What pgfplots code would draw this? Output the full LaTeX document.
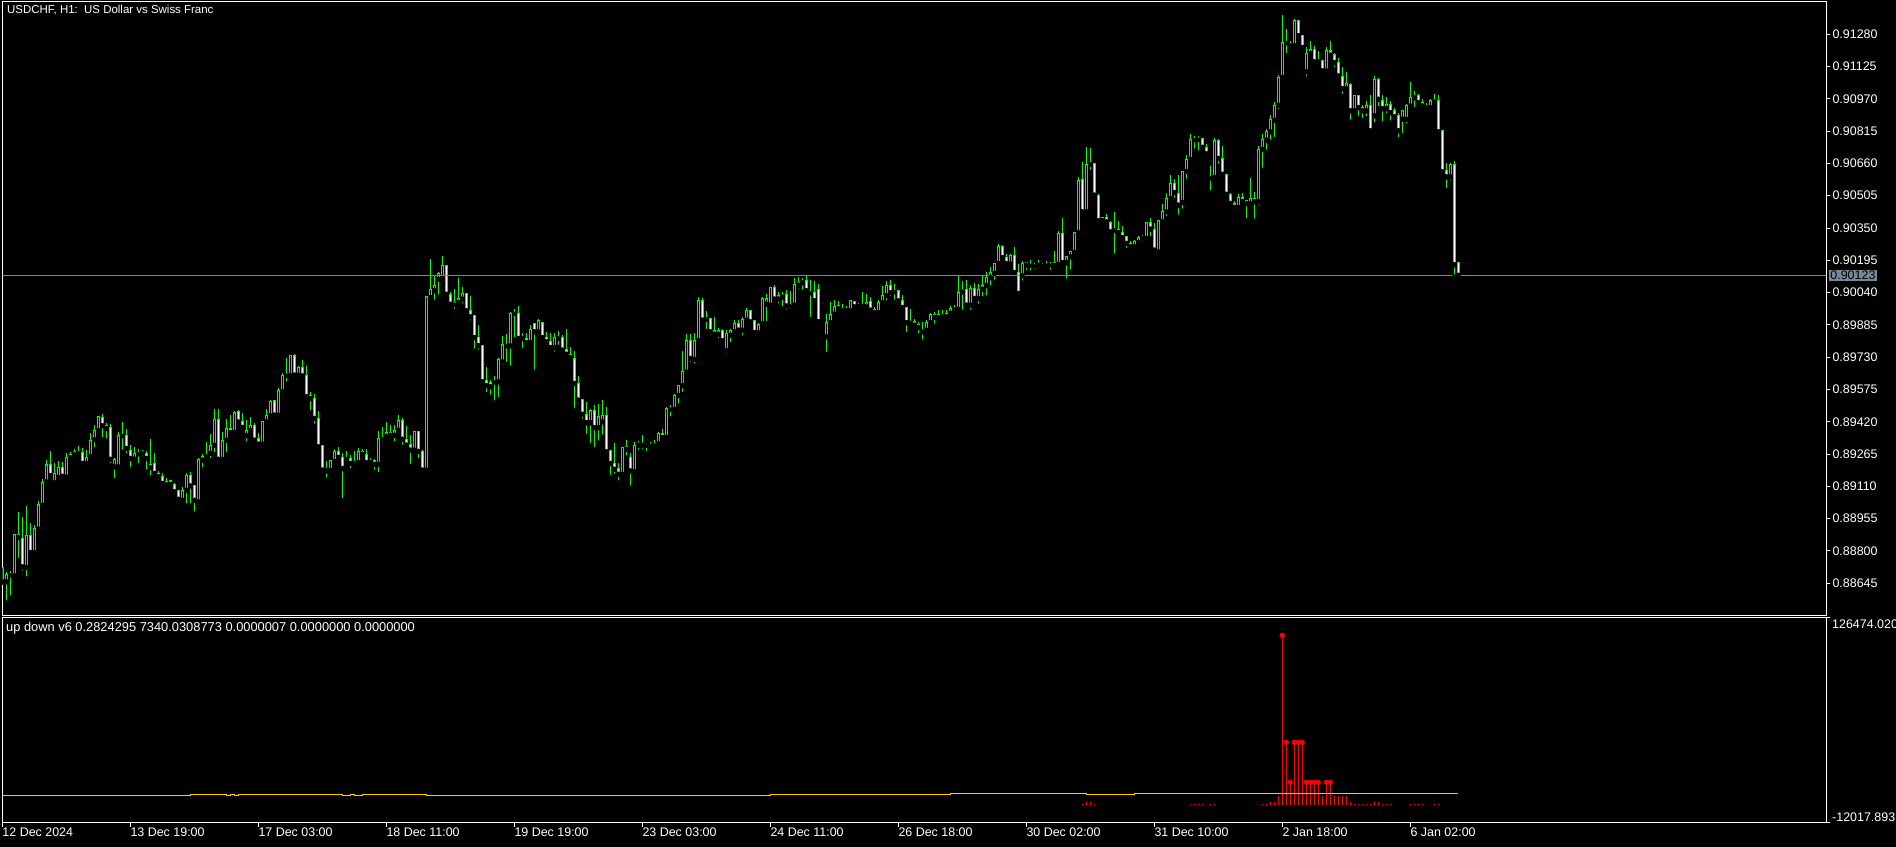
\documentclass[border=0pt]{standalone}
\usepackage{pgfplots}
\pgfplotsset{compat=1.18}
\usepackage{pgfplotstable}
\usepackage{fontspec}
\setmainfont{Liberation Sans}
\definecolor{cgreen}{RGB}{0,255,0}
\definecolor{lsg}{RGB}{119,136,153}
\definecolor{cgold}{RGB}{255,200,0}
\definecolor{cred}{RGB}{255,0,0}
\pgfplotstableread{
i o h l c
0 0.88652 0.88724 0.88649 0.88721
1 0.88652 0.88700 0.88552 0.88689
2 0.88686 0.88704 0.88576 0.88689
3 0.88681 0.88883 0.88678 0.88880
4 0.88880 0.88987 0.88756 0.88865
5 0.88860 0.88963 0.88696 0.88724
6 0.88721 0.89016 0.88667 0.88872
7 0.88872 0.88934 0.88784 0.88792
8 0.88792 0.88924 0.88772 0.88908
9 0.88905 0.89040 0.88900 0.89024
10 0.89019 0.89145 0.89001 0.89129
11 0.89132 0.89236 0.89120 0.89216
12 0.89216 0.89280 0.89160 0.89161
13 0.89128 0.89220 0.89124 0.89172
14 0.89153 0.89232 0.89147 0.89201
15 0.89200 0.89227 0.89155 0.89158
16 0.89155 0.89268 0.89152 0.89249
17 0.89248 0.89276 0.89228 0.89264
18 0.89264 0.89289 0.89256 0.89276
19 0.89276 0.89304 0.89265 0.89272
20 0.89273 0.89292 0.89217 0.89220
21 0.89220 0.89284 0.89217 0.89249
22 0.89254 0.89368 0.89252 0.89331
23 0.89334 0.89404 0.89289 0.89379
24 0.89377 0.89449 0.89372 0.89443
25 0.89441 0.89457 0.89336 0.89401
26 0.89404 0.89412 0.89329 0.89388
27 0.89393 0.89409 0.89212 0.89240
28 0.89204 0.89244 0.89140 0.89240
29 0.89204 0.89369 0.89201 0.89356
30 0.89356 0.89419 0.89276 0.89353
31 0.89353 0.89385 0.89260 0.89292
32 0.89284 0.89308 0.89193 0.89244
33 0.89241 0.89300 0.89236 0.89268
34 0.89268 0.89288 0.89212 0.89267
35 0.89273 0.89284 0.89244 0.89270
36 0.89268 0.89280 0.89180 0.89244
37 0.89200 0.89337 0.89153 0.89216
38 0.89220 0.89270 0.89169 0.89172
39 0.89172 0.89184 0.89132 0.89156
40 0.89156 0.89176 0.89104 0.89124
41 0.89118 0.89150 0.89096 0.89134
42 0.89136 0.89140 0.89099 0.89120
43 0.89120 0.89124 0.89081 0.89084
44 0.89088 0.89092 0.89032 0.89048
45 0.89044 0.89105 0.89025 0.89092
46 0.89092 0.89172 0.89019 0.89163
47 0.89163 0.89179 0.89019 0.89112
48 0.89115 0.89116 0.88979 0.89043
49 0.89036 0.89244 0.89012 0.89240
50 0.89236 0.89264 0.89193 0.89252
51 0.89252 0.89321 0.89240 0.89265
52 0.89268 0.89361 0.89236 0.89307
53 0.89307 0.89481 0.89264 0.89432
54 0.89432 0.89481 0.89228 0.89240
55 0.89240 0.89371 0.89216 0.89329
56 0.89332 0.89433 0.89264 0.89388
57 0.89388 0.89452 0.89361 0.89368
58 0.89369 0.89470 0.89348 0.89465
59 0.89470 0.89476 0.89412 0.89419
60 0.89420 0.89460 0.89388 0.89393
61 0.89353 0.89428 0.89316 0.89380
62 0.89377 0.89444 0.89368 0.89400
63 0.89400 0.89412 0.89324 0.89332
64 0.89340 0.89368 0.89308 0.89313
65 0.89313 0.89425 0.89296 0.89422
66 0.89420 0.89481 0.89412 0.89452
67 0.89449 0.89524 0.89448 0.89515
68 0.89520 0.89521 0.89449 0.89452
69 0.89452 0.89584 0.89449 0.89568
70 0.89564 0.89652 0.89540 0.89644
71 0.89643 0.89728 0.89604 0.89644
72 0.89641 0.89740 0.89640 0.89736
73 0.89736 0.89745 0.89640 0.89644
74 0.89644 0.89688 0.89632 0.89681
75 0.89681 0.89716 0.89636 0.89640
76 0.89643 0.89688 0.89521 0.89540
77 0.89544 0.89564 0.89464 0.89532
78 0.89532 0.89553 0.89401 0.89436
79 0.89436 0.89472 0.89291 0.89300
80 0.89304 0.89308 0.89176 0.89188
81 0.89193 0.89233 0.89144 0.89185
82 0.89185 0.89236 0.89168 0.89232
83 0.89230 0.89288 0.89220 0.89275
84 0.89278 0.89300 0.89243 0.89249
85 0.89249 0.89268 0.89044 0.89196
86 0.89249 0.89278 0.89220 0.89244
87 0.89244 0.89262 0.89188 0.89220
88 0.89224 0.89281 0.89201 0.89227
89 0.89224 0.89294 0.89217 0.89275
90 0.89264 0.89291 0.89240 0.89275
91 0.89264 0.89288 0.89204 0.89224
92 0.89236 0.89246 0.89217 0.89225
93 0.89236 0.89243 0.89180 0.89216
94 0.89216 0.89376 0.89168 0.89342
95 0.89339 0.89396 0.89313 0.89344
96 0.89348 0.89419 0.89336 0.89369
97 0.89369 0.89404 0.89339 0.89355
98 0.89355 0.89403 0.89316 0.89380
99 0.89380 0.89452 0.89355 0.89427
100 0.89427 0.89436 0.89300 0.89336
101 0.89336 0.89400 0.89304 0.89308
102 0.89312 0.89356 0.89208 0.89284
103 0.89284 0.89372 0.89273 0.89371
104 0.89371 0.89372 0.89236 0.89278
105 0.89278 0.89284 0.89169 0.89188
106 0.89188 0.90024 0.89185 0.90019
107 0.90016 0.90201 0.89996 0.90056
108 0.90049 0.90120 0.89996 0.90072
109 0.90104 0.90140 0.90020 0.90132
110 0.90108 0.90216 0.90084 0.90172
111 0.90168 0.90172 0.90020 0.90032
112 0.90032 0.90044 0.89964 0.89984
113 0.89992 0.90056 0.89952 0.89985
114 0.89992 0.90110 0.89980 0.90012
115 0.90009 0.90067 0.89980 0.90036
116 0.90036 0.90040 0.89937 0.89953
117 0.89952 0.90024 0.89896 0.89924
118 0.89928 0.89931 0.89761 0.89824
119 0.89825 0.89884 0.89756 0.89785
120 0.89787 0.89790 0.89596 0.89612
121 0.89616 0.89684 0.89553 0.89593
122 0.89608 0.89620 0.89540 0.89588
123 0.89611 0.89640 0.89512 0.89614
124 0.89612 0.89726 0.89529 0.89721
125 0.89708 0.89832 0.89684 0.89792
126 0.89785 0.89841 0.89697 0.89788
127 0.89785 0.89948 0.89680 0.89940
128 0.89940 0.89960 0.89816 0.89942
129 0.89940 0.89976 0.89812 0.89820
130 0.89820 0.89848 0.89764 0.89830
131 0.89820 0.89848 0.89780 0.89800
132 0.89800 0.89883 0.89796 0.89864
133 0.89892 0.89896 0.89660 0.89852
134 0.89852 0.89913 0.89828 0.89904
135 0.89897 0.89900 0.89809 0.89824
136 0.89824 0.89851 0.89780 0.89804
137 0.89804 0.89848 0.89764 0.89776
138 0.89776 0.89848 0.89747 0.89825
139 0.89822 0.89856 0.89780 0.89824
140 0.89824 0.89836 0.89760 0.89764
141 0.89768 0.89864 0.89723 0.89744
142 0.89744 0.89779 0.89707 0.89728
143 0.89724 0.89760 0.89476 0.89604
144 0.89604 0.89640 0.89497 0.89524
145 0.89528 0.89529 0.89425 0.89456
146 0.89456 0.89513 0.89352 0.89416
147 0.89416 0.89481 0.89308 0.89472
148 0.89472 0.89500 0.89289 0.89392
149 0.89392 0.89505 0.89320 0.89443
150 0.89420 0.89524 0.89348 0.89451
151 0.89452 0.89491 0.89257 0.89276
152 0.89281 0.89284 0.89155 0.89220
153 0.89220 0.89316 0.89160 0.89192
154 0.89196 0.89220 0.89128 0.89168
155 0.89168 0.89300 0.89156 0.89296
156 0.89288 0.89332 0.89248 0.89299
157 0.89249 0.89272 0.89104 0.89184
158 0.89180 0.89321 0.89171 0.89304
159 0.89307 0.89326 0.89276 0.89318
160 0.89316 0.89356 0.89280 0.89307
161 0.89310 0.89316 0.89270 0.89308
162 0.89307 0.89323 0.89289 0.89313
163 0.89310 0.89332 0.89299 0.89315
164 0.89316 0.89372 0.89310 0.89366
165 0.89366 0.89387 0.89332 0.89345
166 0.89344 0.89491 0.89332 0.89486
167 0.89481 0.89502 0.89436 0.89484
168 0.89480 0.89553 0.89464 0.89548
169 0.89547 0.89598 0.89497 0.89593
170 0.89593 0.89760 0.89553 0.89662
171 0.89659 0.89840 0.89652 0.89812
172 0.89812 0.89840 0.89697 0.89724
173 0.89720 0.89844 0.89689 0.89812
174 0.89809 0.90019 0.89809 0.90000
175 0.90000 0.90012 0.89905 0.89908
176 0.89915 0.89950 0.89856 0.89913
177 0.89916 0.89920 0.89828 0.89852
178 0.89840 0.89921 0.89828 0.89860
179 0.89857 0.89870 0.89812 0.89841
180 0.89860 0.89865 0.89804 0.89809
181 0.89761 0.89860 0.89736 0.89844
182 0.89835 0.89865 0.89793 0.89856
183 0.89852 0.89908 0.89844 0.89894
184 0.89892 0.89908 0.89844 0.89860
185 0.89860 0.89921 0.89824 0.89913
186 0.89908 0.89966 0.89905 0.89952
187 0.89952 0.89956 0.89889 0.89900
188 0.89904 0.89905 0.89844 0.89848
189 0.89848 0.89896 0.89844 0.89889
190 0.89892 0.90019 0.89889 0.90014
191 0.89985 0.90033 0.89892 0.90012
192 0.89980 0.90068 0.89976 0.90065
193 0.90065 0.90076 0.90001 0.90009
194 0.90009 0.90043 0.89980 0.90024
195 0.90019 0.90043 0.89964 0.90033
196 0.90032 0.90052 0.89948 0.89976
197 0.89984 0.90049 0.89953 0.89977
198 0.89980 0.90112 0.89964 0.90080
199 0.90076 0.90113 0.90049 0.90089
200 0.90088 0.90108 0.90044 0.90100
201 0.90100 0.90120 0.90044 0.90049
202 0.90046 0.90100 0.89913 0.90040
203 0.90041 0.90096 0.89982 0.90001
204 0.90056 0.90081 0.89900 0.89900
205 0.89984 0.89992 0.89976 0.89979
206 0.89828 0.89937 0.89745 0.89897
207 0.89896 0.89995 0.89892 0.89936
208 0.89937 0.90004 0.89916 0.89974
209 0.89963 0.90000 0.89953 0.89976
210 0.89960 0.89985 0.89940 0.89958
211 0.89953 0.89976 0.89932 0.89961
212 0.89953 0.90004 0.89948 0.90000
213 0.89996 0.90000 0.89953 0.89972
214 0.89977 0.89988 0.89960 0.89976
215 0.89979 0.90043 0.89964 0.89976
216 0.89972 0.90033 0.89964 0.89993
217 0.89998 0.90020 0.89948 0.89956
218 0.89944 0.89972 0.89929 0.89960
219 0.89944 0.90004 0.89936 0.89992
220 0.89992 0.90072 0.89988 0.90027
221 0.90025 0.90096 0.89992 0.90075
222 0.90075 0.90100 0.90014 0.90040
223 0.90046 0.90081 0.89996 0.90044
224 0.90049 0.90052 0.89988 0.90000
225 0.90004 0.90028 0.89953 0.89968
226 0.89969 0.89972 0.89841 0.89896
227 0.89900 0.89961 0.89876 0.89897
228 0.89902 0.89912 0.89876 0.89884
229 0.89889 0.89900 0.89836 0.89873
230 0.89852 0.89900 0.89804 0.89864
231 0.89860 0.89908 0.89844 0.89897
232 0.89896 0.89944 0.89892 0.89937
233 0.89937 0.89948 0.89881 0.89921
234 0.89920 0.89956 0.89904 0.89937
235 0.89937 0.89956 0.89920 0.89924
236 0.89924 0.89956 0.89920 0.89940
237 0.89940 0.89977 0.89928 0.89966
238 0.89956 0.89980 0.89952 0.89964
239 0.89960 0.90120 0.89956 0.90041
240 0.90044 0.90096 0.89948 0.90056
241 0.90056 0.90100 0.89976 0.89980
242 0.89980 0.90076 0.89948 0.90060
243 0.90060 0.90084 0.89992 0.90012
244 0.90012 0.90081 0.89977 0.90057
245 0.90056 0.90120 0.90012 0.90073
246 0.90073 0.90137 0.90016 0.90112
247 0.90112 0.90161 0.90065 0.90136
248 0.90132 0.90184 0.90092 0.90180
249 0.90180 0.90273 0.90172 0.90259
250 0.90259 0.90268 0.90204 0.90208
251 0.90209 0.90225 0.90160 0.90179
252 0.90177 0.90225 0.90177 0.90220
253 0.90220 0.90259 0.90108 0.90136
254 0.90136 0.90177 0.90025 0.90036
255 0.90121 0.90192 0.90088 0.90180
256 0.90172 0.90188 0.90140 0.90184
257 0.90172 0.90196 0.90136 0.90171
258 0.90169 0.90184 0.90144 0.90176
259 0.90180 0.90196 0.90168 0.90171
260 0.90177 0.90180 0.90152 0.90171
261 0.90172 0.90192 0.90161 0.90172
262 0.90176 0.90188 0.90140 0.90174
263 0.90171 0.90240 0.90161 0.90184
264 0.90176 0.90336 0.90160 0.90324
265 0.90324 0.90400 0.90172 0.90184
266 0.90184 0.90217 0.90097 0.90211
267 0.90212 0.90241 0.90140 0.90235
268 0.90232 0.90332 0.90217 0.90329
269 0.90328 0.90595 0.90308 0.90580
270 0.90584 0.90668 0.90419 0.90428
271 0.90428 0.90739 0.90428 0.90657
272 0.90657 0.90734 0.90620 0.90659
273 0.90660 0.90664 0.90500 0.90508
274 0.90504 0.90513 0.90372 0.90385
275 0.90385 0.90404 0.90372 0.90401
276 0.90401 0.90417 0.90368 0.90380
277 0.90377 0.90384 0.90329 0.90332
278 0.90342 0.90427 0.90217 0.90340
279 0.90344 0.90384 0.90323 0.90328
280 0.90329 0.90360 0.90299 0.90304
281 0.90307 0.90312 0.90244 0.90276
282 0.90278 0.90289 0.90252 0.90260
283 0.90260 0.90294 0.90244 0.90284
284 0.90280 0.90312 0.90273 0.90304
285 0.90302 0.90315 0.90276 0.90305
286 0.90300 0.90380 0.90284 0.90377
287 0.90377 0.90400 0.90300 0.90345
288 0.90345 0.90376 0.90228 0.90244
289 0.90236 0.90388 0.90232 0.90384
290 0.90380 0.90465 0.90364 0.90430
291 0.90428 0.90516 0.90396 0.90492
292 0.90492 0.90604 0.90472 0.90564
293 0.90564 0.90584 0.90484 0.90520
294 0.90516 0.90604 0.90404 0.90460
295 0.90473 0.90624 0.90433 0.90622
296 0.90622 0.90700 0.90577 0.90680
297 0.90680 0.90801 0.90664 0.90776
298 0.90774 0.90792 0.90721 0.90776
299 0.90776 0.90792 0.90712 0.90782
300 0.90780 0.90784 0.90716 0.90737
301 0.90737 0.90753 0.90704 0.90707
302 0.90590 0.90648 0.90520 0.90592
303 0.90592 0.90780 0.90584 0.90772
304 0.90772 0.90779 0.90648 0.90684
305 0.90684 0.90744 0.90596 0.90608
306 0.90608 0.90611 0.90508 0.90512
307 0.90513 0.90520 0.90462 0.90468
308 0.90468 0.90478 0.90424 0.90449
309 0.90449 0.90512 0.90433 0.90497
310 0.90497 0.90516 0.90468 0.90478
311 0.90483 0.90484 0.90388 0.90467
312 0.90467 0.90590 0.90444 0.90491
313 0.90491 0.90521 0.90385 0.90476
314 0.90476 0.90744 0.90449 0.90728
315 0.90728 0.90800 0.90628 0.90776
316 0.90772 0.90824 0.90716 0.90814
317 0.90812 0.90892 0.90764 0.90872
318 0.90868 0.90956 0.90777 0.90939
319 0.90940 0.91084 0.90912 0.91073
320 0.91072 0.91372 0.91072 0.91241
321 0.91241 0.91305 0.91180 0.91240
322 0.91225 0.91249 0.91204 0.91236
323 0.91225 0.91353 0.91225 0.91344
324 0.91344 0.91345 0.91252 0.91273
325 0.91272 0.91276 0.91216 0.91216
326 0.91100 0.91217 0.91068 0.91188
327 0.91188 0.91249 0.91180 0.91208
328 0.91208 0.91224 0.91144 0.91148
329 0.91153 0.91201 0.91140 0.91152
330 0.91153 0.91156 0.91084 0.91105
331 0.91104 0.91219 0.91099 0.91204
332 0.91204 0.91248 0.91176 0.91180
333 0.91185 0.91188 0.91113 0.91144
334 0.91145 0.91164 0.91072 0.91080
335 0.91078 0.91124 0.90984 0.91019
336 0.91019 0.91099 0.90996 0.91044
337 0.91040 0.91044 0.90860 0.90913
338 0.90913 0.90988 0.90892 0.90984
339 0.90984 0.90987 0.90876 0.90928
340 0.90929 0.90940 0.90868 0.90913
341 0.90913 0.90960 0.90876 0.90936
342 0.90936 0.90988 0.90796 0.90817
343 0.90889 0.91080 0.90849 0.91065
344 0.91065 0.91068 0.90924 0.90968
345 0.90964 0.90988 0.90852 0.90923
346 0.90923 0.90979 0.90892 0.90945
347 0.90945 0.90958 0.90856 0.90904
348 0.90912 0.90926 0.90881 0.90884
349 0.90892 0.90904 0.90777 0.90817
350 0.90873 0.90916 0.90796 0.90912
351 0.90872 0.90944 0.90844 0.90936
352 0.90936 0.91051 0.90924 0.90977
353 0.90976 0.91008 0.90921 0.90988
354 0.90988 0.90993 0.90948 0.90952
355 0.90953 0.90968 0.90921 0.90936
356 0.90936 0.90948 0.90916 0.90928
357 0.90928 0.90969 0.90908 0.90960
358 0.90956 0.90993 0.90948 0.90969
359 0.90964 0.90988 0.90796 0.90812
360 0.90816 0.90820 0.90604 0.90620
361 0.90624 0.90660 0.90532 0.90596
362 0.90596 0.90660 0.90568 0.90657
363 0.90657 0.90672 0.90116 0.90174
364 0.90185 0.90185 0.90123 0.90123
}\candles
\pgfplotstableread{
i v
270 700
271 2000
272 2000
273 700
297 700
298 700
299 700
300 700
302 700
303 700
315 700
316 700
317 2034
318 2034
319 5885
320 114448
321 42163
322 15140
323 42163
324 42163
325 42163
326 15140
327 15140
328 15140
329 15140
330 5885
331 15140
332 15140
333 5885
334 5885
335 5885
336 5885
337 2034
338 700
339 700
340 700
341 700
342 700
343 2034
344 2034
345 700
346 700
347 700
352 700
353 700
354 700
355 700
358 700
359 700
}\redbars
\pgfplotstableread{
i v
320 114448
321 42163
322 15140
323 42163
324 42163
325 42163
326 15140
327 15140
328 15140
329 15140
331 15140
332 15140
}\reddots
\pgfplotstableread{
i v
0 5990
47 6665
56 5990
57 6665
58 5990
59 6665
85 5990
87 6665
88 5990
90 6665
106 5990
192 6665
237 7340
271 6665
283 7340
364 7340
}\yellowline
\begin{document}
\begin{tikzpicture}
\path[use as bounding box] (0,0) rectangle (1896bp,-847bp);
\fill[black] (0,0) rectangle (1896bp,-847bp);
% main price panel
\begin{axis}[
  at={(2.3bp,-2bp)}, anchor=north west, scale only axis,
  width=1824bp, height=613bp,
  xmin=0, xmax=456, ymin=0.884924, ymax=0.914348,
  axis line style={draw=white, line width=1bp},
  xtick=\empty,
  ytick={0.88645,0.88800,0.88955,0.89110,0.89265,0.89420,0.89575,0.89730,0.89885,0.90040,0.90195,0.90350,0.90505,0.90660,0.90815,0.90970,0.91125,0.91280},
  yticklabels={0.88645,0.88800,0.88955,0.89110,0.89265,0.89420,0.89575,0.89730,0.89885,0.90040,0.90195,0.90350,0.90505,0.90660,0.90815,0.90970,0.91125,0.91280},
  ytick pos=right, yticklabel pos=right,
  tick align=outside, major tick length=4bp,
  ytick style={draw=white, line width=1bp},
  yticklabel style={anchor=west, inner sep=0pt, xshift=2bp, text=white, font=\fontsize{12.5}{14}\selectfont},
]
% wicks
\addplot[only marks, mark=none, error bars/.cd, y dir=plus, y explicit, error mark=none,
  error bar style={draw=cgreen, line width=1bp}]
  table[x=i, y=l, y error plus expr={\thisrow{h}-\thisrow{l}}] {\candles};
% bodies (outline)
\addplot[only marks, mark=none, error bars/.cd, y dir=plus, y explicit, error mark=none,
  error bar style={draw=cgreen, line width=3bp}]
  table[x=i, y expr={min(\thisrow{o},\thisrow{c})-0.000024}, y error plus expr={abs(\thisrow{o}-\thisrow{c})+0.000048}] {\candles};
% bear bodies: white interior
\addplot[only marks, mark=none, restrict expr to domain={\thisrow{o}-\thisrow{c}}{0.00007:1},
  error bars/.cd, y dir=plus, y explicit, error mark=none,
  error bar style={draw=white, line width=1bp}]
  table[x=i, y expr={\thisrow{c}+0.000024}, y error plus expr={\thisrow{o}-\thisrow{c}-0.000048}] {\candles};
% bull bodies: black interior
\addplot[only marks, mark=none, restrict expr to domain={\thisrow{c}-\thisrow{o}}{0.00007:1},
  error bars/.cd, y dir=plus, y explicit, error mark=none,
  error bar style={draw=black, line width=1bp}]
  table[x=i, y expr={\thisrow{o}+0.000024}, y error plus expr={\thisrow{c}-\thisrow{o}-0.000048}] {\candles};
% current price line
\addplot[draw=lsg, line width=1bp] coordinates {(0,0.90123) (456,0.90123)};
\end{axis}
\node[anchor=west, inner sep=1.2bp, fill=lsg, text=black, font=\fontsize{12.5}{14}\selectfont] at (1829bp,-275.3bp) {0.90123};
\node[anchor=west, inner sep=0pt, text=white, font=\fontsize{11.5}{13}\selectfont] at (7bp,-10bp) {USDCHF, H1:\ \ US Dollar vs Swiss Franc};
% indicator panel
\begin{axis}[
  at={(2.3bp,-617.5bp)}, anchor=north west, scale only axis,
  width=1824bp, height=205bp,
  xmin=0, xmax=456, ymin=-12017.893, ymax=126474.02,
  axis line style={draw=white, line width=1bp},
  xtick={0,32,64,96,128,160,192,224,256,288,320,352},
  xticklabels={12 Dec 2024,13 Dec 19:00,17 Dec 03:00,18 Dec 11:00,19 Dec 19:00,23 Dec 03:00,24 Dec 11:00,26 Dec 18:00,30 Dec 02:00,31 Dec 10:00,2 Jan 18:00,6 Jan 02:00},
  xtick pos=bottom, ytick pos=right,
  ytick={-12017.893,126474.02}, yticklabels={},
  tick align=outside, major tick length=4bp,
  tick style={draw=white, line width=1bp},
  xticklabel style={anchor=north west, inner sep=0pt, yshift=-1bp, text=white, font=\fontsize{12.5}{14}\selectfont},
]
\addplot[ycomb, draw=cred, line width=1bp] table[x=i, y=v] {\redbars};
\addplot[only marks, mark=*, mark size=2.4bp, draw=cred, fill=cred] table[x=i, y=v] {\reddots};
\addplot[const plot, draw=cgold, line width=1bp] table[x=i, y=v] {\yellowline};
\end{axis}
\node[anchor=west, inner sep=0pt, text=white, font=\fontsize{12.9}{14}\selectfont] at (6bp,-628bp) {up down v6 0.2824295 7340.0308773 0.0000007 0.0000000 0.0000000};
\node[anchor=west, inner sep=0pt, text=white, font=\fontsize{12.5}{14}\selectfont] at (1832bp,-624bp) {126474.020};
\node[anchor=west, inner sep=0pt, text=white, font=\fontsize{12.5}{14}\selectfont] at (1832bp,-817bp) {-12017.893};
\end{tikzpicture}
\end{document}
